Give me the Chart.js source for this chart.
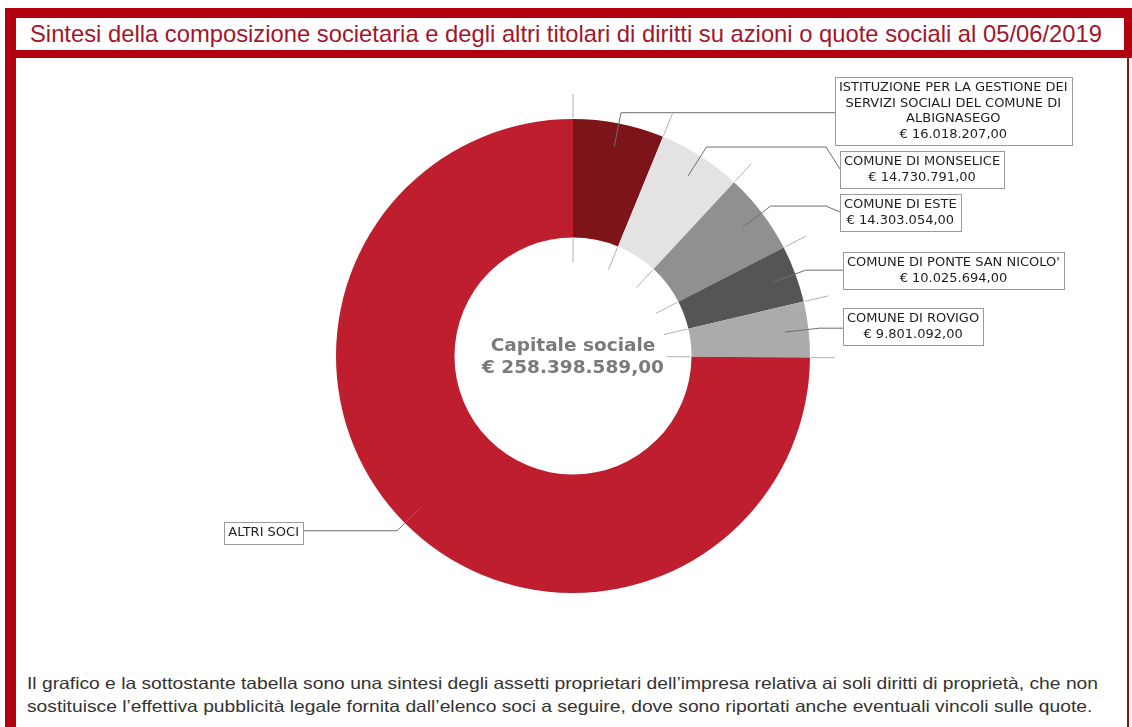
<!DOCTYPE html>
<html><head><meta charset="utf-8">
<script src="https://cdn.jsdelivr.net/npm/chart.js@4"></script>
<style>
html,body{margin:0;padding:0;background:#fff;}
#page{position:relative;width:1132px;height:727px;overflow:hidden;background:#fff;}
.red{position:absolute;background:#b3000f;}
#titleBox{position:absolute;left:16px;top:18px;width:1108px;height:32px;background:#fff;}
#titleText{position:absolute;left:30px;top:19px;white-space:nowrap;font-family:"Liberation Sans Narrow","Liberation Sans",Arial,sans-serif;font-size:24px;color:#a3152c;transform-origin:0 0;line-height:30px;}
.foot{position:absolute;left:27px;white-space:nowrap;font-family:"Liberation Sans",Arial,sans-serif;font-size:16.5px;color:#333;transform-origin:0 0;line-height:20px;}
#wrap{position:absolute;left:0;top:0;width:1132px;height:727px;}
</style></head>
<body>
<div id="page">
  <div class="red" style="left:5px;top:8px;width:1127px;height:10px"></div>
  <div class="red" style="left:5px;top:8px;width:11px;height:719px"></div>
  <div class="red" style="left:5px;top:50px;width:1127px;height:8px"></div>
  <div class="red" style="left:1124px;top:8px;width:8px;height:50px"></div>
  <div class="red" style="left:1127px;top:58px;width:2px;height:669px"></div>
  <div id="titleBox"></div>
  <div id="titleText"></div>
  <div class="foot" id="foot1" style="top:673px"></div>
  <div class="foot" id="foot2" style="top:696px"></div>
  <div id="wrap"><canvas id="c"></canvas></div>
</div>
<script>
// ---- data ----
const titleText = "Sintesi della composizione societaria e degli altri titolari di diritti su azioni o quote sociali al 05/06/2019";
const footLines = [
  "Il grafico e la sottostante tabella sono una sintesi degli assetti proprietari dell\u2019impresa relativa ai soli diritti di proprietà, che non",
  "sostituisce l\u2019effettiva pubblicità legale fornita dall\u2019elenco soci a seguire, dove sono riportati anche eventuali vincoli sulle quote."
];
const categories = [
  "ISTITUZIONE PER LA GESTIONE DEI SERVIZI SOCIALI DEL COMUNE DI ALBIGNASEGO",
  "COMUNE DI MONSELICE",
  "COMUNE DI ESTE",
  "COMUNE DI PONTE SAN NICOLO'",
  "COMUNE DI ROVIGO",
  "ALTRI SOCI"
];
const values = [16018207, 14730791, 14303054, 10025694, 9801092, 193519751];
const labelLines = [
  ["ISTITUZIONE PER LA GESTIONE DEI", "SERVIZI SOCIALI DEL COMUNE DI", "ALBIGNASEGO"],
  ["COMUNE DI MONSELICE"],
  ["COMUNE DI ESTE"],
  ["COMUNE DI PONTE SAN NICOLO'"],
  ["COMUNE DI ROVIGO"],
  ["ALTRI SOCI"]
];
const valueLabels = ["€ 16.018.207,00", "€ 14.730.791,00", "€ 14.303.054,00", "€ 10.025.694,00", "€ 9.801.092,00", ""];
const centerTitle = "Capitale sociale";
const centerValue = "€ 258.398.589,00";

// ---- styles / layout ----
const colors = ["#7d1419", "#e3e3e3", "#909090", "#555555", "#ababab", "#be1e2d"];
const boxAnchors = [
  {x: 835, cy: 110.5, side: "right"},
  {x: 840, cy: 169, side: "right"},
  {x: 840, cy: 212, side: "right"},
  {x: 843, cy: 270, side: "right"},
  {x: 843, cy: 326, side: "right"},
  {x: 303, cy: 532.5, side: "left"}
];

// ---- HTML text ----
function fit(el, w) {
  const r = el.getBoundingClientRect().width;
  el.style.transform = "scaleX(" + (w / r) + ")";
}
const tEl = document.getElementById("titleText");
tEl.textContent = titleText; fit(tEl, 1072);
const f1 = document.getElementById("foot1"), f2 = document.getElementById("foot2");
f1.textContent = footLines[0]; f2.textContent = footLines[1];
const s = 1071 / f1.getBoundingClientRect().width;
f1.style.transform = "scaleX(" + s + ")"; f2.style.transform = "scaleX(" + s + ")";

// ---- chart ----
const labelsPlugin = {
  id: "labelsPlugin",
  afterDraw(chart) {
    const ctx = chart.ctx;
    const meta = chart.getDatasetMeta(0);
    const arcs = meta.data;
    ctx.save();
    // boundary extension lines
    ctx.strokeStyle = "#b0b0b0"; ctx.lineWidth = 1;
    arcs.forEach(a => {
      const p = a.getProps(["x", "y", "startAngle", "innerRadius", "outerRadius"], true);
      const c = Math.cos(p.startAngle), sn = Math.sin(p.startAngle);
      ctx.beginPath();
      ctx.moveTo(p.x + c * (p.outerRadius + 1), p.y + sn * (p.outerRadius + 1));
      ctx.lineTo(p.x + c * (p.outerRadius + 25), p.y + sn * (p.outerRadius + 25));
      ctx.moveTo(p.x + c * (p.innerRadius - 1), p.y + sn * (p.innerRadius - 1));
      ctx.lineTo(p.x + c * (p.innerRadius - 25), p.y + sn * (p.innerRadius - 25));
      ctx.stroke();
    });
    // labels + leaders
    const lh = 15.5, padX = 4, padY = 3;
    ctx.font = "13px 'DejaVu Sans', sans-serif";
    arcs.forEach((a, i) => {
      const p = a.getProps(["x", "y", "startAngle", "endAngle", "innerRadius", "outerRadius"], true);
      const mid = (p.startAngle + p.endAngle) / 2;
      const c = Math.cos(mid), sn = Math.sin(mid);
      const sx = p.x + c * p.outerRadius * 0.9, sy = p.y + sn * p.outerRadius * 0.9;
      const ex = p.x + c * (p.outerRadius + 11), ey = p.y + sn * (p.outerRadius + 11);
      const lines = labelLines[i].concat(valueLabels[i] ? [valueLabels[i]] : []);
      const tw = Math.max(...lines.map(t => ctx.measureText(t).width));
      const bw = tw + 2 * padX, bh = lines.length * lh + 2 * padY;
      const an = boxAnchors[i];
      const bx = an.side === "right" ? an.x : an.x - bw;
      const by = an.cy - bh / 2;
      const edge = an.x;
      ctx.strokeStyle = "#6e6e6e"; ctx.lineWidth = 1;
      ctx.beginPath();
      ctx.moveTo(sx, sy); ctx.lineTo(ex, ey);
      if (Math.abs(ey - an.cy) > 3) {
        const hx = an.side === "right" ? edge - 14 : edge + 14;
        ctx.lineTo(hx, ey); ctx.lineTo(edge, an.cy);
      } else {
        ctx.lineTo(edge, ey);
      }
      ctx.stroke();
      ctx.fillStyle = "#fff";
      ctx.fillRect(bx, by, bw, bh);
      ctx.strokeStyle = "#9a9a9a";
      ctx.strokeRect(Math.round(bx) + 0.5, Math.round(by) + 0.5, Math.round(bw), Math.round(bh));
      ctx.fillStyle = "#1e1e1e"; ctx.textAlign = "center"; ctx.textBaseline = "middle";
      lines.forEach((t, k) => ctx.fillText(t, bx + bw / 2, by + padY + lh * (k + 0.5) + 0.5));
    });
    // center text
    const p0 = arcs[0].getProps(["x", "y"], true);
    ctx.fillStyle = "#7a7a7a"; ctx.font = "bold 18.5px 'DejaVu Sans', sans-serif";
    ctx.textAlign = "center"; ctx.textBaseline = "middle";
    ctx.fillText(centerTitle, p0.x, p0.y - 10);
    ctx.fillText(centerValue, p0.x, p0.y + 12);
    ctx.restore();
  }
};

new Chart(document.getElementById("c"), {
  type: "doughnut",
  data: {
    labels: categories,
    datasets: [{data: values, backgroundColor: colors, borderWidth: 0}]
  },
  options: {
    responsive: true, maintainAspectRatio: false, animation: false,
    devicePixelRatio: 1,
    cutout: "50%",
    layout: {padding: {left: 336, right: 322, top: 119, bottom: 134}},
    plugins: {legend: {display: false}, tooltip: {enabled: false}}
  },
  plugins: [labelsPlugin]
});
</script>
</body></html>
